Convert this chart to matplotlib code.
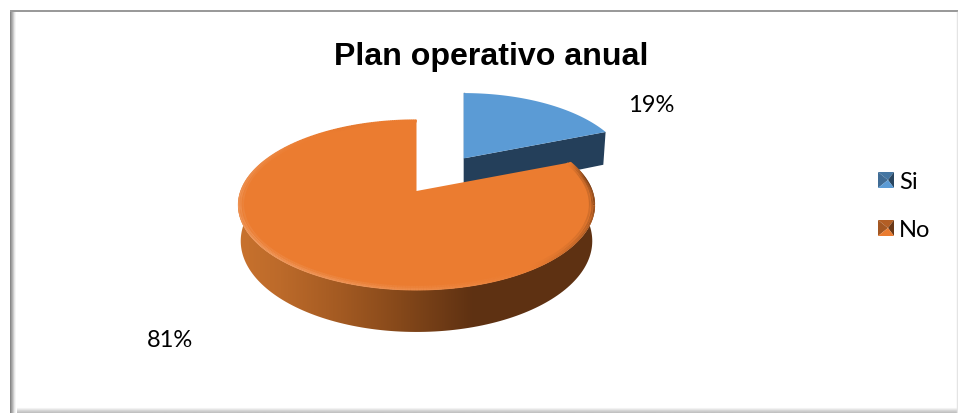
import numpy as np
import matplotlib
matplotlib.use('Agg')
import matplotlib.pyplot as plt
from matplotlib.collections import LineCollection
from matplotlib.colors import to_rgb
from matplotlib.patches import Polygon

categories = ['Si', 'No']
shares = [19, 81]
pct_labels = ['19%', '81%']
title = 'Plan operativo anual'

BLUE = '#5B9BD5'
BLUE_SIDE = '#243F5A'
ORANGE = '#EB7C30'

# pie projection, in pixels
CX, CY = 416.5, 192
R, S = 176, 82.7
K = 0.165
T = 35
EXPLODE = 0.51
SLICE_SCALE = 0.92


def project(u, v, z=0.0):
    w = 1 + K * v
    x = CX + R * u / w * (1 - 0.015 * z)
    y = CY + (-S * v + T * z) / w
    return x, y


def arc(a0, a1, n=200, r=1.0):
    # angles run clockwise from 12 o'clock
    t = np.radians(np.linspace(a0, a1, n))
    return r * np.sin(t), r * np.cos(t)


def shade(color, f):
    c = np.array(to_rgb(color))
    return tuple(c * f) if f < 1 else tuple(c + (1 - c) * (f - 1))


fig = plt.figure(figsize=(9.58, 4.14), dpi=100)
ax = fig.add_axes([0, 0, 1, 1])
ax.set_xlim(0, 958)
ax.set_ylim(414, 0)
ax.axis('off')

# chart frame with its soft shadow
left_band = np.array([[0.53, 0.62, 0.70, 0.80, 0.90, 0.96, 1.0]])
ax.imshow(left_band, extent=(10, 17, 414, 13), cmap='gray', vmin=0, vmax=1, aspect='auto', zorder=1)
bottom_band = np.array([[1.0], [0.95], [0.90], [0.84], [0.80], [0.76]])
ax.imshow(bottom_band, extent=(17, 958, 414, 408), cmap='gray', vmin=0, vmax=1, aspect='auto', zorder=1)
ax.fill_between([10, 958], 11, 13, color='#9A9A9A', lw=0, zorder=1)
ax.plot([957.5, 957.5], [13, 414], color='#E4E4E4', lw=1, zorder=1)

angle_si = 360 * shares[0] / sum(shares)
mid = np.radians(angle_si / 2)
apex = project(EXPLODE * np.sin(mid), EXPLODE * np.cos(mid))


def slice_point(u, v, z=0.0):
    # small slice is pulled out along its bisector and drawn a bit smaller
    px, py = project(u, v, z)
    return apex[0] + SLICE_SCALE * (px - CX), apex[1] + SLICE_SCALE * (py - CY)


# exploded slice: cut face first, then the top
eu, ev = np.sin(np.radians(angle_si)), np.cos(np.radians(angle_si))
side_pts = [slice_point(0, 0), slice_point(eu, ev), slice_point(eu, ev, 1.08), slice_point(0, 0, 1.08)]
ax.add_patch(Polygon(side_pts, closed=True, fc=BLUE_SIDE, ec='none', zorder=3))
u, v = arc(0, angle_si)
x, y = slice_point(u, v)
ax.add_patch(Polygon(np.column_stack([np.r_[apex[0], x], np.r_[apex[1], y]]), closed=True,
                     fc=BLUE, ec='none', zorder=4))
ax.plot([apex[0], x[0]], [apex[1], y[0]], color=BLUE_SIDE, lw=1, alpha=0.7, zorder=3.5)

# rim of the large slice with the left to right shading, stopped short of the
# back edge so it never shows in the gap
u, v = arc(angle_si, 340)
xr, yr = project(u, v)
xb, yb = project(u, v, 1)
band = Polygon(np.column_stack([np.r_[xr, xb[::-1]], np.r_[yr, yb[::-1]]]), closed=True,
               fc='none', ec='none', transform=ax.transData)
ax.add_patch(band)
stops_x = [238, 280, 340, 400, 473, 600]
stops_c = [to_rgb(c) for c in ['#C8722E', '#BC6A2A', '#A35A22', '#85481A', '#5E3112', '#5E3112']]
xs = np.arange(235, 600)
grad = np.stack([np.interp(xs, stops_x, [c[i] for c in stops_c]) for i in range(3)], axis=-1)[None, :, :]
rim = ax.imshow(grad, extent=(235, 600, 340, 110), aspect='auto', zorder=5)
rim.set_clip_path(band)

u, v = arc(angle_si, 360)
xt, yt = project(u, v)
xa, ya = project(0, 0)
ax.add_patch(Polygon(np.column_stack([np.r_[xa, xt], np.r_[ya, yt]]), closed=True,
                     fc=ORANGE, ec='none', zorder=6))

# bevel along the front of the top face
for r, strength in [(0.996, 1.0), (0.985, 0.7), (0.972, 0.35)]:
    u, v = arc(angle_si, 360, n=400, r=r)
    px, py = project(u, v)
    pts = np.column_stack([px, py])
    segs = np.stack([pts[:-1], pts[1:]], axis=1)
    ang = np.linspace(angle_si, 360, len(segs))
    light = np.cos(np.radians(ang - 235))
    fade = np.clip((345 - ang) / 45, 0, 1) * np.clip((ang - angle_si) / 12, 0, 1)
    cols = [shade(ORANGE, 1 + 0.22 * s * strength * f if s > 0 else 1 + 0.55 * s * strength * f)
            for s, f in zip(light, fade)]
    ax.add_collection(LineCollection(segs, colors=cols, linewidths=1.3, zorder=7))

ax.text(491, 57, title, fontsize=23.1, fontweight='bold', family='Liberation Sans',
        ha='center', va='center', color='black', zorder=8)
ax.text(651.5, 106, pct_labels[0], fontsize=17, family='Lato', ha='center', va='center', zorder=8)
ax.text(170.5, 341, pct_labels[1], fontsize=17, family='Lato', ha='center', va='center', zorder=8)

# legend keys are small pyramids
for name, color, top in zip(categories, [BLUE, ORANGE], [173, 221]):
    x0, x1, y0, y1 = 878, 894, top, top + 16
    xc, yc = 888, top + 8
    faces = [([(x0, y0), (x1, y0), (xc, yc)], 0.76),
             ([(x0, y0), (x0, y1), (xc, yc)], 0.70),
             ([(x1, y0), (x1, y1), (xc, yc)], 0.45),
             ([(x0, y1), (x1, y1), (xc, yc)], 1.0)]
    for pts, f in faces:
        ax.add_patch(Polygon(pts, closed=True, fc=shade(color, f), ec='none', zorder=8))
    ax.text(899, top + 10, name, fontsize=17, family='Lato', ha='left', va='center', zorder=8)

fig.savefig('out.png', dpi=100)
